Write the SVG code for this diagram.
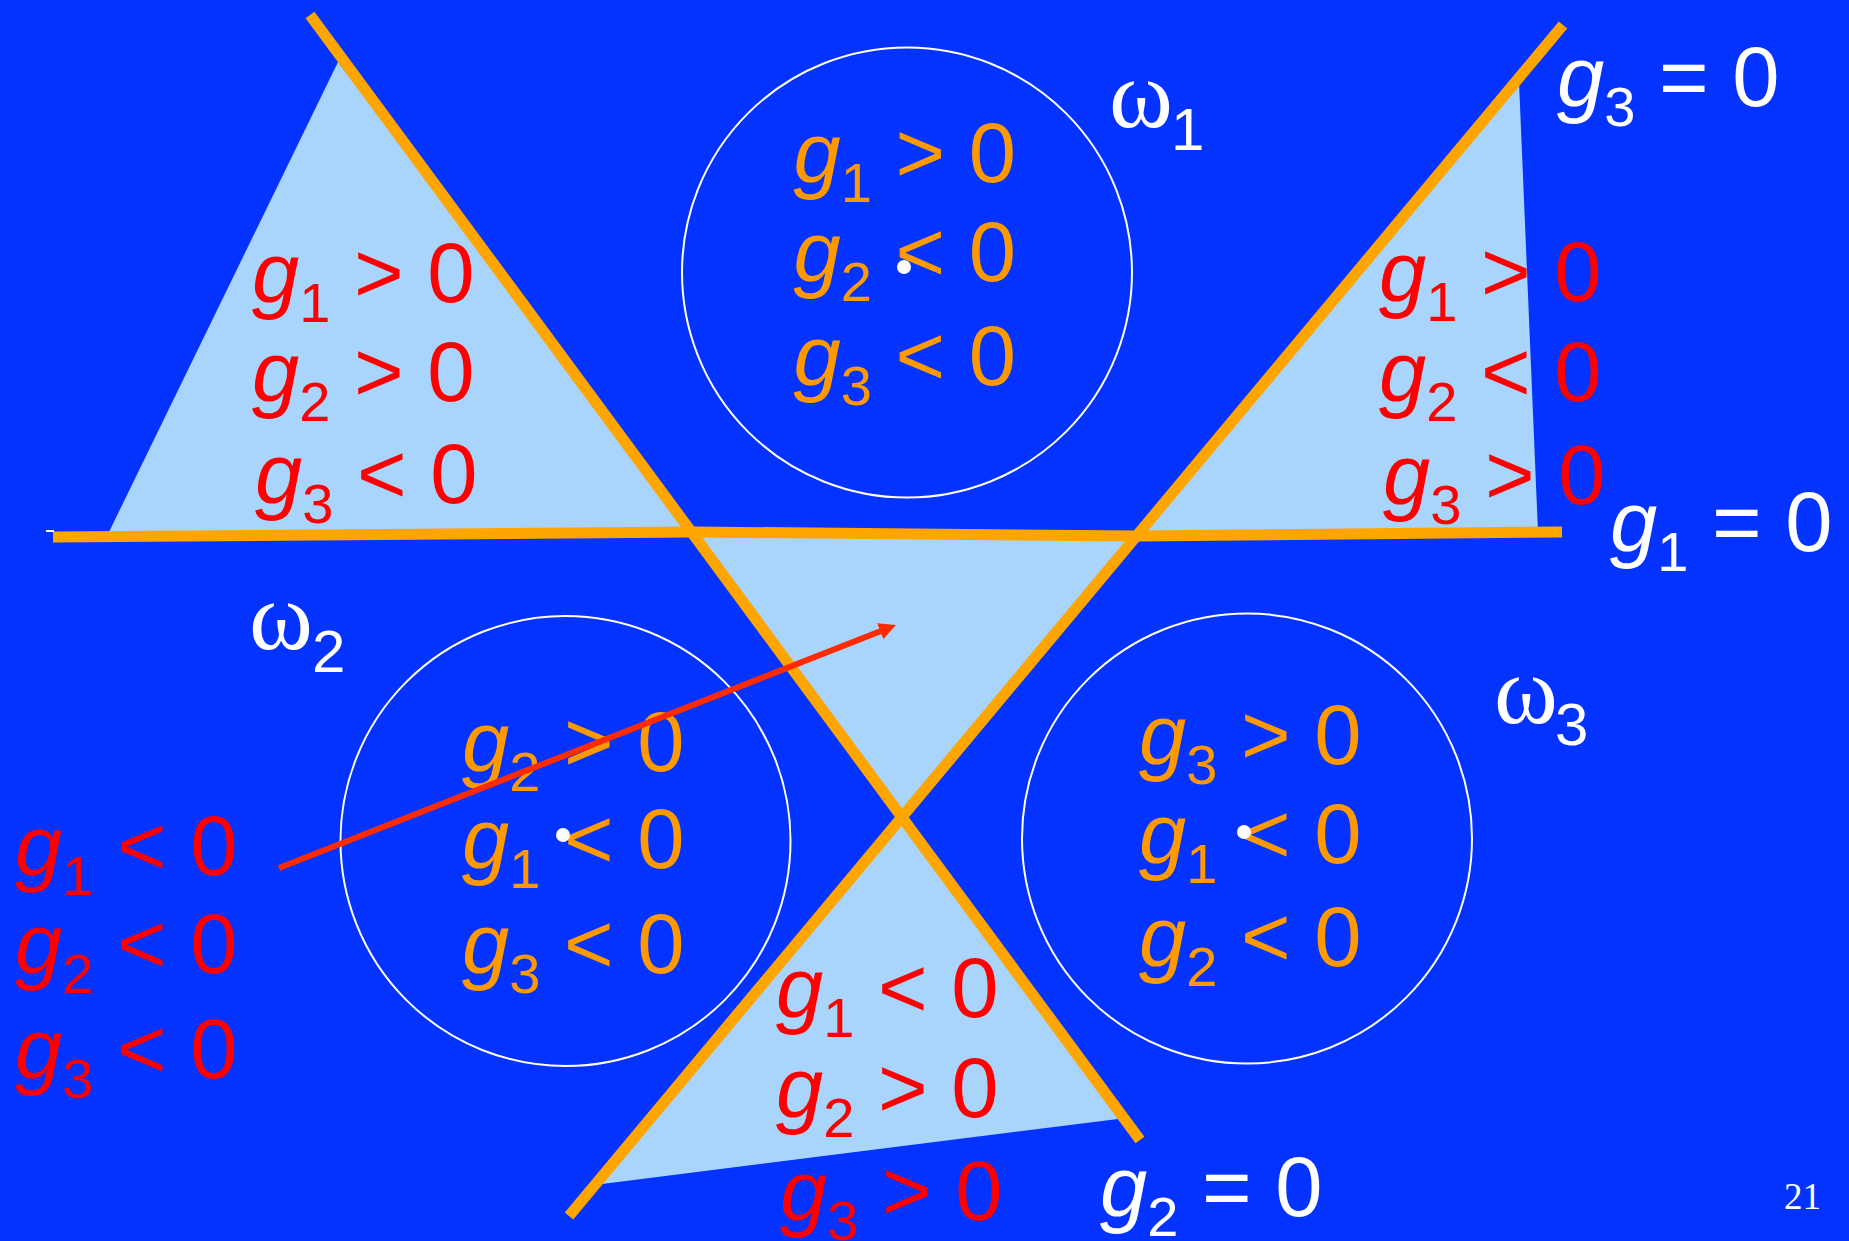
<svg xmlns="http://www.w3.org/2000/svg" width="1849" height="1241" viewBox="0 0 1849 1241">
<defs>
<style>
.t{font-family:"Liberation Sans",Arial,sans-serif;font-size:85px}
.red{fill:#FF0000}
.org{fill:#FF9900}
.wht{fill:#FFFFFF}
.g{font-style:italic}
.s{font-size:56px}
.om{font-family:"Liberation Serif","Times New Roman",serif;font-size:97px;fill:#FFFFFF}
.os{font-family:"Liberation Sans",Arial,sans-serif;font-size:60px;fill:#FFFFFF}
.reg{fill:#A9D4FB}
.bnd{fill:none;stroke:#FFA500;stroke-width:11;stroke-linejoin:miter}
.cir{fill:none;stroke:#FFFFFF;stroke-width:2}
.dot{fill:#FFFFFF}
</style>
<marker id="ah" viewBox="0 0 17 17" refX="7" refY="8.5" markerWidth="17" markerHeight="17" markerUnits="userSpaceOnUse" orient="auto">
<path d="M0,0 L17,8.5 L0,17 z" fill="#FF2A00"/>
</marker>
</defs>
<rect width="1849" height="1241" fill="#0433FF"/>
<g id="regions">
<polygon class="reg" points="338,62 108,534 693,534"/>
<polygon class="reg" points="693,532 1138,536 902,817"/>
<polygon class="reg" points="1519,82 1538,532 1138,534"/>
<polygon class="reg" points="902,817 602,1184 1118,1119"/>
</g>
<g id="boundaries">
<line class="bnd" x1="310" y1="15" x2="1140" y2="1140"/>
<line class="bnd" x1="1563" y1="25" x2="569" y2="1216"/>
<polyline class="bnd" points="53,537 693,532 1138,536 1562,532"/>
<line x1="46" y1="531" x2="54" y2="531" stroke="#FFFFFF" stroke-width="2"/>
</g>
<g id="class1">
<circle class="cir" cx="907" cy="272.5" r="225"/>
<text class="t org" x="793.5" y="182"><tspan class="g">g</tspan><tspan class="s" dy="20">1</tspan><tspan dy="-20"> &gt; 0</tspan></text>
<text class="t org" x="793.5" y="281"><tspan class="g">g</tspan><tspan class="s" dy="20">2</tspan><tspan dy="-20"> &lt; 0</tspan></text>
<text class="t org" x="793.5" y="385"><tspan class="g">g</tspan><tspan class="s" dy="20">3</tspan><tspan dy="-20"> &lt; 0</tspan></text>
<circle class="dot" cx="904" cy="267" r="7"/>
<text class="om" x="1109" y="127">ω</text><text class="os" x="1171" y="150">1</text>
</g>
<g id="class2">
<circle class="cir" cx="565.5" cy="841" r="225"/>
<text class="t org" x="462" y="771"><tspan class="g">g</tspan><tspan class="s" dy="20">2</tspan><tspan dy="-20"> &gt; 0</tspan></text>
<text class="t org" x="462" y="868"><tspan class="g">g</tspan><tspan class="s" dy="20">1</tspan><tspan dy="-20"> &lt; 0</tspan></text>
<text class="t org" x="462" y="973"><tspan class="g">g</tspan><tspan class="s" dy="20">3</tspan><tspan dy="-20"> &lt; 0</tspan></text>
<circle class="dot" cx="563" cy="835" r="7"/>
<text class="om" x="249" y="649">ω</text><text class="os" x="312" y="672">2</text>
</g>
<g id="class3">
<circle class="cir" cx="1247" cy="838.5" r="225"/>
<text class="t org" x="1139" y="764"><tspan class="g">g</tspan><tspan class="s" dy="20">3</tspan><tspan dy="-20"> &gt; 0</tspan></text>
<text class="t org" x="1139" y="863"><tspan class="g">g</tspan><tspan class="s" dy="20">1</tspan><tspan dy="-20"> &lt; 0</tspan></text>
<text class="t org" x="1139" y="966"><tspan class="g">g</tspan><tspan class="s" dy="20">2</tspan><tspan dy="-20"> &lt; 0</tspan></text>
<circle class="dot" cx="1244" cy="832" r="7"/>
<text class="om" x="1494" y="723">ω</text><text class="os" x="1555" y="745">3</text>
</g>
<g id="region-upper-left">
<text class="t red" x="252" y="302"><tspan class="g">g</tspan><tspan class="s" dy="20">1</tspan><tspan dy="-20"> &gt; 0</tspan></text>
<text class="t red" x="252" y="401"><tspan class="g">g</tspan><tspan class="s" dy="20">2</tspan><tspan dy="-20"> &gt; 0</tspan></text>
<text class="t red" x="255" y="503"><tspan class="g">g</tspan><tspan class="s" dy="20">3</tspan><tspan dy="-20"> &lt; 0</tspan></text>
</g>
<g id="region-upper-right">
<text class="t red" x="1379" y="301"><tspan class="g">g</tspan><tspan class="s" dy="20">1</tspan><tspan dy="-20"> &gt; 0</tspan></text>
<text class="t red" x="1379" y="401"><tspan class="g">g</tspan><tspan class="s" dy="20">2</tspan><tspan dy="-20"> &lt; 0</tspan></text>
<text class="t red" x="1383" y="503.6"><tspan class="g">g</tspan><tspan class="s" dy="20">3</tspan><tspan dy="-20"> &gt; 0</tspan></text>
</g>
<g id="region-left">
<text class="t red" x="15" y="875"><tspan class="g">g</tspan><tspan class="s" dy="20">1</tspan><tspan dy="-20"> &lt; 0</tspan></text>
<text class="t red" x="15" y="973"><tspan class="g">g</tspan><tspan class="s" dy="20">2</tspan><tspan dy="-20"> &lt; 0</tspan></text>
<text class="t red" x="15" y="1078"><tspan class="g">g</tspan><tspan class="s" dy="20">3</tspan><tspan dy="-20"> &lt; 0</tspan></text>
</g>
<g id="region-bottom">
<text class="t red" x="776" y="1017"><tspan class="g">g</tspan><tspan class="s" dy="20">1</tspan><tspan dy="-20"> &lt; 0</tspan></text>
<text class="t red" x="776" y="1117"><tspan class="g">g</tspan><tspan class="s" dy="20">2</tspan><tspan dy="-20"> &gt; 0</tspan></text>
<text class="t red" x="780" y="1220"><tspan class="g">g</tspan><tspan class="s" dy="20">3</tspan><tspan dy="-20"> &gt; 0</tspan></text>
</g>
<g id="boundary-labels">
<text class="t wht" x="1557" y="106"><tspan class="g">g</tspan><tspan class="s" dy="20">3</tspan><tspan dy="-20"> = 0</tspan></text>
<text class="t wht" x="1610" y="551"><tspan class="g">g</tspan><tspan class="s" dy="20">1</tspan><tspan dy="-20"> = 0</tspan></text>
<text class="t wht" x="1100" y="1216"><tspan class="g">g</tspan><tspan class="s" dy="20">2</tspan><tspan dy="-20"> = 0</tspan></text>
</g>
<g id="connectors">
<line x1="279" y1="868" x2="886.7" y2="628.7" stroke="#FF2A00" stroke-width="6" marker-end="url(#ah)"/>
</g>
<text x="1784" y="1209" font-family="Liberation Serif,'Times New Roman',serif" font-size="37" fill="#FFFFFF">21</text>
</svg>
